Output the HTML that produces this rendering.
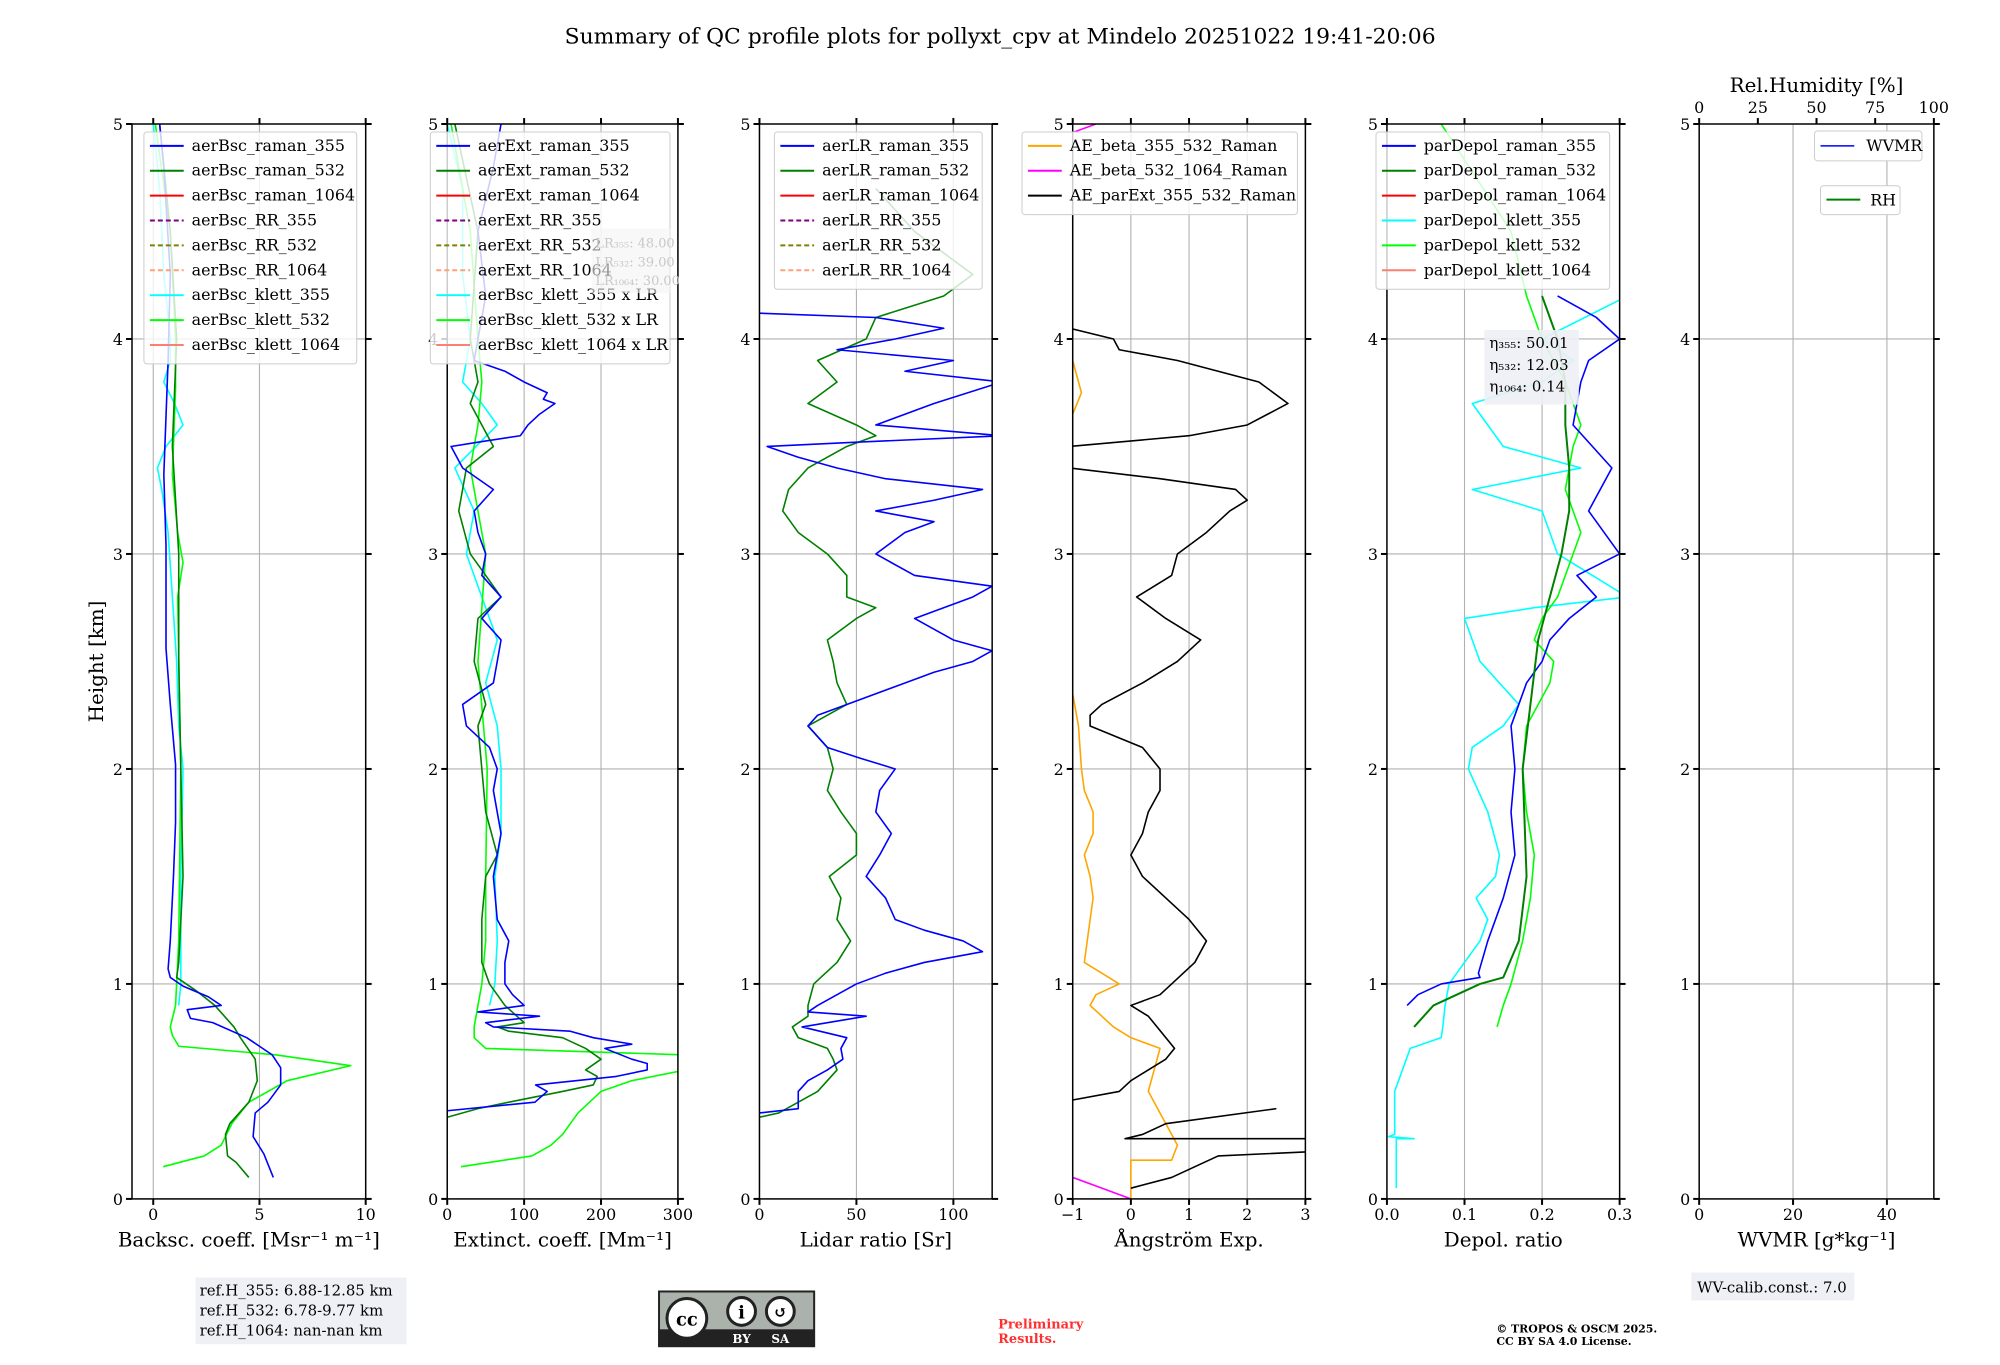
<!DOCTYPE html>
<html><head><meta charset="utf-8"><style>
html,body{margin:0;padding:0;background:#fff;}
svg text{font-family:"DejaVu Serif","Liberation Serif",serif;}
</style></head><body>
<svg id="fig" xmlns="http://www.w3.org/2000/svg" width="2000" height="1360" viewBox="0 0 2000 1360">
<rect width="2000" height="1360" fill="#fff"/>
<g transform="matrix(0.9944,0,0,0.9953,0.74,0.58)">
<text x="1005" y="43" font-size="22" text-anchor="middle">Summary of QC profile plots for pollyxt_cpv at Mindelo 20251022 19:41-20:06</text>
<text transform="translate(103,664) rotate(-90)" font-size="20" text-anchor="middle">Height [km]</text>
<g id="panels"></g>
<g>
<rect x="196" y="1283" width="212" height="67" fill="#eef0f5"/>
<text x="200" y="1301" font-size="15">ref.H_355: 6.88-12.85 km</text>
<text x="200" y="1321" font-size="15">ref.H_532: 6.78-9.77 km</text>
<text x="200" y="1341" font-size="15">ref.H_1064: nan-nan km</text>
</g>
<g>
<rect x="662" y="1297" width="156" height="55" fill="#aab2ab" stroke="#222" stroke-width="2"/>
<rect x="662" y="1335" width="156" height="17" fill="#222"/>
<circle cx="690" cy="1324" r="20" fill="#fff" stroke="#222" stroke-width="3"/>
<text x="690" y="1331" font-size="18" font-weight="bold" text-anchor="middle" font-family="Liberation Sans,sans-serif">cc</text>
<circle cx="745" cy="1317" r="14" fill="#fff" stroke="#222" stroke-width="3"/>
<circle cx="784" cy="1317" r="14" fill="#fff" stroke="#222" stroke-width="3"/>
<text x="745" y="1324" font-size="18" font-weight="bold" text-anchor="middle" font-family="Liberation Sans,sans-serif">i</text>
<text x="784" y="1323" font-size="16" font-weight="bold" text-anchor="middle" font-family="Liberation Sans,sans-serif">↺</text>
<text x="745" y="1349" font-size="12" font-weight="bold" fill="#fff" text-anchor="middle" font-family="Liberation Sans,sans-serif">BY</text>
<text x="784" y="1349" font-size="12" font-weight="bold" fill="#fff" text-anchor="middle" font-family="Liberation Sans,sans-serif">SA</text>
</g>
<text x="1003" y="1334" font-size="13" font-weight="bold" fill="#ff3030">Preliminary</text>
<text x="1003" y="1349" font-size="13" font-weight="bold" fill="#ff3030">Results.</text>
<text x="1504" y="1338" font-size="11" font-weight="bold">© TROPOS &amp; OSCM 2025.</text>
<text x="1504" y="1351" font-size="11" font-weight="bold">CC BY SA 4.0 License.</text>
<g>
<rect x="1700" y="1278" width="164" height="28" fill="#eef0f5"/>
<text x="1706" y="1298" font-size="15">WV-calib.const.: 7.0</text>
</g>
</g>
</svg>
<script>
// ---- data: [height km, value] ----
const bsc355 = [[0.1,5.65],[0.21,5.2],[0.29,4.7],[0.4,4.8],[0.45,5.4],[0.53,6.0],[0.61,6.0],[0.67,5.6],[0.75,4.4],[0.82,2.8],[0.84,1.75],[0.88,1.6],[0.9,3.2],[0.94,2.6],[0.99,1.4],[1.03,0.8],[1.07,0.7],[1.2,0.8],[1.5,0.95],[1.75,1.05],[2.02,1.05],[2.3,0.8],[2.56,0.6],[2.83,0.6],[3.04,0.6],[3.37,0.5],[3.64,0.6],[3.9,0.7],[4.3,0.8],[4.8,0.5],[5.0,0.3]];
const bsc532 = [[0.1,4.5],[0.17,3.9],[0.2,3.5],[0.3,3.4],[0.35,3.6],[0.45,4.5],[0.55,4.9],[0.65,4.8],[0.75,4.1],[0.8,3.8],[0.9,2.9],[0.97,2.0],[1.03,1.1],[1.1,1.2],[1.5,1.4],[2.0,1.3],[2.5,1.2],[3.0,1.2],[3.5,0.9],[4.0,1.1],[4.5,0.8],[5.0,0.3]];
const bscKlett532 = [[0.15,0.47],[0.2,2.4],[0.25,3.2],[0.35,3.7],[0.45,4.5],[0.55,6.3],[0.62,9.3],[0.67,5.8],[0.71,1.2],[0.76,0.9],[0.8,0.8],[0.9,1.05],[1.2,1.2],[2.0,1.3],[2.8,1.15],[2.96,1.4],[3.1,1.15],[3.37,0.9],[3.77,1.05],[4.0,1.05],[4.5,0.8],[5.0,0.1]];
const bscKlett355 = [[0.9,1.2],[1.0,1.3],[1.5,1.3],[2.0,1.4],[2.2,1.2],[2.5,1.1],[2.8,0.9],[3.1,0.7],[3.3,0.4],[3.4,0.2],[3.5,0.6],[3.6,1.4],[3.7,1.0],[3.8,0.5],[3.9,0.8],[4.0,0.8],[4.3,0.5],[4.7,0.3],[5.0,0.0]];
const ext355 = [[0.4,0],[0.41,0],[0.45,114],[0.5,130],[0.53,115],[0.57,220],[0.6,260],[0.63,260],[0.65,240],[0.7,205],[0.72,240],[0.75,190],[0.78,160],[0.8,60],[0.82,50],[0.85,120],[0.87,40],[0.9,100],[0.95,85],[1.0,75],[1.1,75],[1.2,80],[1.3,65],[1.5,60],[1.7,70],[1.9,60],[2.0,65],[2.1,55],[2.2,25],[2.3,20],[2.4,60],[2.5,65],[2.6,70],[2.7,45],[2.8,70],[2.9,45],[3.0,50],[3.1,40],[3.2,35],[3.3,60],[3.4,20],[3.5,5],[3.52,40],[3.55,95],[3.6,105],[3.65,120],[3.7,140],[3.72,125],[3.75,130],[3.8,100],[3.85,75],[3.9,35],[4.0,40],[4.2,50],[4.5,40],[4.8,60],[5.0,70]];
const ext532 = [[0.38,0],[0.42,40],[0.45,80],[0.5,150],[0.53,190],[0.57,195],[0.6,180],[0.65,200],[0.7,180],[0.75,150],[0.78,80],[0.8,65],[0.82,100],[0.9,75],[1.0,55],[1.1,45],[1.3,45],[1.5,50],[1.6,65],[1.8,50],[2.0,45],[2.2,40],[2.3,50],[2.5,35],[2.7,40],[2.8,70],[2.9,50],[3.0,30],[3.2,15],[3.4,25],[3.5,60],[3.6,45],[3.7,30],[3.8,40],[3.9,35],[4.0,30],[4.5,40],[5.0,10]];
const extKlett532 = [[0.15,18],[0.2,110],[0.25,135],[0.3,150],[0.4,170],[0.5,200],[0.55,240],[0.6,310],[0.67,310],[0.7,50],[0.75,35],[0.8,35],[0.9,40],[1.0,45],[1.2,50],[1.5,50],[2.0,52],[2.5,40],[3.0,50],[3.2,40],[3.4,30],[3.6,40],[3.8,45],[4.0,40],[4.5,30],[5.0,5]];
const extKlett355 = [[0.9,55],[1.0,62],[1.2,65],[1.5,62],[1.7,70],[2.0,70],[2.2,65],[2.4,50],[2.6,65],[2.8,45],[3.0,25],[3.2,35],[3.4,10],[3.6,65],[3.7,45],[3.8,20],[4.0,30],[4.3,20],[4.7,20],[5.0,0]];
const lr355 = [[0.4,0],[0.42,20],[0.5,20],[0.55,25],[0.6,35],[0.65,43],[0.7,42],[0.75,45],[0.8,22],[0.85,55],[0.87,25],[0.9,30],[0.95,40],[1.0,50],[1.05,65],[1.1,85],[1.15,115],[1.2,105],[1.25,85],[1.3,70],[1.4,65],[1.5,55],[1.6,62],[1.7,68],[1.8,60],[1.9,62],[2.0,70],[2.05,52],[2.1,35],[2.2,25],[2.25,30],[2.3,45],[2.4,75],[2.45,90],[2.5,110],[2.55,120],[2.6,100],[2.7,80],[2.8,110],[2.85,120],[2.9,80],[3.0,60],[3.1,75],[3.15,90],[3.2,60],[3.25,90],[3.3,115],[3.35,65],[3.4,40],[3.45,20],[3.5,4],[3.52,50],[3.55,125],[3.6,60],[3.7,90],[3.8,125],[3.85,75],[3.9,100],[3.95,40],[4.0,70],[4.05,95],[4.1,60],[4.12,0]];
const lr532 = [[0.38,0],[0.4,10],[0.45,20],[0.5,30],[0.6,40],[0.65,38],[0.7,35],[0.75,20],[0.8,17],[0.85,25],[0.9,25],[1.0,28],[1.1,40],[1.2,47],[1.3,40],[1.4,42],[1.5,36],[1.6,50],[1.7,50],[1.8,42],[1.9,35],[2.0,38],[2.1,35],[2.2,25],[2.3,45],[2.4,40],[2.5,38],[2.6,35],[2.7,50],[2.75,60],[2.8,45],[2.9,45],[3.0,35],[3.1,20],[3.2,12],[3.3,15],[3.4,25],[3.5,45],[3.55,60],[3.6,50],[3.7,25],[3.8,40],[3.9,30],[4.0,55],[4.1,60],[4.2,95],[4.3,110],[4.5,80],[4.7,60]];
const aeParExt1 = [[0.05,0],[0.1,0.7],[0.2,1.5],[0.22,3.1]];
const aeParExt2 = [[0.28,3.1],[0.28,-0.1],[0.3,0.2],[0.35,0.6],[0.42,2.5]];
const aeParExt3 = [[0.46,-1.0],[0.5,-0.2],[0.55,0],[0.6,0.3],[0.65,0.6],[0.7,0.75],[0.75,0.6],[0.8,0.45],[0.85,0.3],[0.9,0],[0.95,0.5],[1.0,0.7],[1.1,1.1],[1.2,1.3],[1.3,1.0],[1.4,0.6],[1.5,0.2],[1.6,0.0],[1.7,0.2],[1.8,0.3],[1.9,0.5],[2.0,0.5],[2.1,0.2],[2.2,-0.7],[2.25,-0.7],[2.3,-0.5],[2.4,0.2],[2.5,0.8],[2.6,1.2],[2.7,0.6],[2.8,0.1],[2.9,0.7],[3.0,0.8],[3.1,1.3],[3.2,1.7],[3.25,2.0],[3.3,1.8],[3.35,0.5],[3.4,-1.05]];
const aeParExt4 = [[3.5,-1.05],[3.55,1.0],[3.6,2.0],[3.7,2.7],[3.8,2.2],[3.9,0.8],[3.95,-0.2],[4.0,-0.3],[4.05,-1.05]];
const aeBeta355532a = [[0.0,0.0],[0.18,0.0],[0.18,0.7],[0.25,0.8],[0.35,0.6],[0.5,0.3],[0.7,0.5],[0.75,0.0],[0.8,-0.3],[0.9,-0.7],[0.95,-0.6],[1.0,-0.2],[1.05,-0.5],[1.1,-0.8],[1.2,-0.75],[1.4,-0.65],[1.5,-0.7],[1.6,-0.8],[1.7,-0.65],[1.8,-0.65],[1.9,-0.8],[2.0,-0.85],[2.2,-0.9],[2.35,-1.0]];
const aeBeta355532b = [[3.65,-1.0],[3.75,-0.85],[3.85,-0.95],[3.9,-1.0]];
const aeBeta5321064a = [[0.0,0.0],[0.05,-0.5],[0.1,-1.0]];
const aeBeta5321064b = [[4.96,-1.0],[5.0,-0.6]];
const dep355 = [[0.9,0.026],[0.95,0.04],[1.0,0.07],[1.03,0.12],[1.05,0.118],[1.2,0.13],[1.4,0.15],[1.6,0.165],[1.8,0.16],[2.0,0.165],[2.2,0.16],[2.4,0.18],[2.5,0.2],[2.6,0.21],[2.7,0.235],[2.8,0.27],[2.9,0.245],[3.0,0.3],[3.2,0.26],[3.4,0.29],[3.6,0.24],[3.8,0.25],[3.9,0.26],[4.0,0.3],[4.1,0.27],[4.2,0.22]];
const dep532 = [[0.8,0.035],[0.9,0.06],[1.0,0.12],[1.03,0.15],[1.2,0.17],[1.5,0.18],[2.0,0.175],[2.3,0.185],[2.6,0.195],[2.8,0.21],[3.0,0.225],[3.2,0.235],[3.4,0.235],[3.6,0.23],[3.8,0.23],[4.0,0.22],[4.2,0.2]];
const depKlett532 = [[0.8,0.142],[0.9,0.15],[1.0,0.16],[1.2,0.175],[1.4,0.185],[1.6,0.19],[1.8,0.18],[2.0,0.175],[2.2,0.18],[2.4,0.21],[2.5,0.215],[2.6,0.19],[2.7,0.2],[2.8,0.22],[3.0,0.24],[3.1,0.25],[3.3,0.23],[3.5,0.24],[3.6,0.25],[3.8,0.23],[4.0,0.2],[4.2,0.18],[4.5,0.16],[5.0,0.07]];
const depKlett355 = [[0.05,0.012],[0.28,0.012],[0.28,0.035],[0.29,0.002],[0.3,0.01],[0.5,0.01],[0.7,0.03],[0.75,0.07],[0.8,0.072],[0.9,0.075],[1.0,0.08],[1.1,0.1],[1.2,0.12],[1.3,0.13],[1.4,0.115],[1.5,0.14],[1.6,0.145],[1.8,0.13],[2.0,0.105],[2.1,0.11],[2.2,0.15],[2.3,0.17],[2.5,0.12],[2.7,0.1],[2.75,0.19],[2.8,0.31],[3.0,0.22],[3.2,0.2],[3.3,0.11],[3.4,0.25],[3.5,0.15],[3.7,0.11],[3.8,0.2],[3.9,0.24],[4.0,0.2],[4.2,0.31]];
const yTicks = [0,1,2,3,4,5];
const bscTicks = [0,5,10];
const extTicks = [0,100,200,300];
const lrTicks = [0,50,100];
const aeTicks = [-1,0,1,2,3];
const depTicks = [0.0,0.1,0.2,0.3];
const depTickLabels = ["0.0","0.1","0.2","0.3"];
const wvTicks = [0,20,40];
const rhTicks = [0,25,50,75,100];

const NS="http://www.w3.org/2000/svg";
const root=document.getElementById('panels');
const Y0=1204, Y1=124;
function yS(h){return Y0-(h/5)*(Y0-Y1);}
function mk(tag,attrs,parent){const e=document.createElementNS(NS,tag);for(const k in attrs)e.setAttribute(k,attrs[k]);parent.appendChild(e);return e;}

const panels=[
 {id:'bsc',x0:132,x1:367,min:-1,max:10,ticks:bscTicks,labels:bscTicks.map(String),label:'Backsc. coeff. [Msr⁻¹ m⁻¹]'},
 {id:'ext',x0:449,x1:681,min:0,max:300,ticks:extTicks,labels:extTicks.map(String),label:'Extinct. coeff. [Mm⁻¹]'},
 {id:'lr',x0:763,x1:997,min:0,max:120,ticks:lrTicks,labels:lrTicks.map(String),label:'Lidar ratio [Sr]'},
 {id:'ae',x0:1078,x1:1312,min:-1,max:3,ticks:aeTicks,labels:aeTicks.map(v=>v<0?'−'+(-v):String(v)),label:'Ångström Exp.'},
 {id:'dep',x0:1394,x1:1628,min:0,max:0.3,ticks:depTicks,labels:depTickLabels,label:'Depol. ratio'},
 {id:'wv',x0:1708,x1:1944,min:0,max:50,ticks:wvTicks,labels:wvTicks.map(String),label:'WVMR [g*kg⁻¹]'}
];

function drawPanel(p,i){
  const g=mk('g',{},root);
  
  
  const xS=v=>p.x0+(v-p.min)/(p.max-p.min)*(p.x1-p.x0);
  p.xS=xS;
  const cp=mk('clipPath',{id:'clip'+i},g);
  mk('rect',{x:p.x0,y:Y1,width:p.x1-p.x0,height:Y0-Y1},cp);
  for(const t of p.ticks){const x=xS(t);const l=mk('line',{x1:x,x2:x,y1:Y1,y2:Y0,stroke:'#b0b0b0','stroke-width':1.1},g);
    
    }
  for(const t of yTicks){const y=yS(t);const l=mk('line',{x1:p.x0,x2:p.x1,y1:y,y2:y,stroke:'#b0b0b0','stroke-width':1.1},g);
    
    }
  p.g=mk('g',{'clip-path':'url(#clip'+i+')'},g);
  p.frame=g;
}
function finishPanel(p){
  const g=p.frame, xS=p.xS;
  mk('rect',{x:p.x0,y:Y1,width:p.x1-p.x0,height:Y0-Y1,fill:'none',stroke:'#000','stroke-width':1.5},g);
  p.ticks.forEach((t,k)=>{const x=xS(t);
    mk('line',{x1:x,x2:x,y1:Y0,y2:Y0+6,stroke:'#000','stroke-width':2},g);
    if(p.id!=='wv') mk('line',{x1:x,x2:x,y1:Y1,y2:Y1-6,stroke:'#000','stroke-width':2},g);
    const tx=mk('text',{x:x,y:Y0+21,'font-size':16,'text-anchor':'middle'},g);
    
    
    tx.textContent=p.labels[k];});
  for(const t of yTicks){const y=yS(t);
    mk('line',{x1:p.x0-6,x2:p.x0,y1:y,y2:y,stroke:'#000','stroke-width':2},g);
    mk('line',{x1:p.x1,x2:p.x1+6,y1:y,y2:y,stroke:'#000','stroke-width':2},g);
    const tx=mk('text',{x:p.x0-9,y:y+6,'font-size':16,'text-anchor':'end'},g);
    
    
    tx.textContent=String(t);}
  const lb=mk('text',{x:(p.x0+p.x1)/2,y:Y0+48,'font-size':20,'text-anchor':'middle'},g);
  
  
  lb.textContent=p.label;
}
function series(p,data,color,name,w,op){
  const d=data.map((q,k)=>(k?'L':'M')+p.xS(q[1]).toFixed(1)+','+yS(q[0]).toFixed(1)).join('');
  const el=mk('path',{d:d,fill:'none',stroke:color,'stroke-width':w||1.6,'stroke-linejoin':'round','opacity':op||1},p.g);
  
  
}
function legend(x,y,w,entries,name){
  const g=mk('g',{},root);
  
  
  const h=entries.length*25+8;
  mk('rect',{x:x,y:y,width:w,height:h,rx:3,fill:'#fff','fill-opacity':0.8,stroke:'#ccc'},g);
  entries.forEach((e,k)=>{const yy=y+14+k*25;
    mk('line',{x1:x+6,x2:x+40,y1:yy,y2:yy,stroke:e[1],'stroke-width':2,'stroke-dasharray':e[2]?'5,3':'none'},g);
    const t=mk('text',{x:x+48,y:yy+5,'font-size':16},g);
    
    
    t.textContent=e[0];});
}

panels.forEach(drawPanel);
const [P1,P2,P3,P4,P5,P6]=panels;
series(P1,bscKlett355,'#00ffff','bsc-klett-355-line');
series(P1,bscKlett532,'#00ff00','bsc-klett-532-line');
series(P1,bsc532,'#008000','bsc-raman-532-line');
series(P1,bsc355,'#0000ff','bsc-raman-355-line');
series(P2,extKlett355,'#00ffff','ext-klett-355-line');
series(P2,extKlett532,'#00ff00','ext-klett-532-line');
series(P2,ext532,'#008000','ext-raman-532-line');
series(P2,ext355,'#0000ff','ext-raman-355-line');
series(P3,lr532,'#008000','lr-raman-532-line');
series(P3,lr355,'#0000ff','lr-raman-355-line');
series(P4,aeBeta355532a,'#ffa500','ae-beta-355-532-line');
series(P4,aeBeta355532b,'#ffa500','ae-beta-355-532-line-upper');
series(P4,aeBeta5321064a,'#ff00ff','ae-beta-532-1064-line');
series(P4,aeBeta5321064b,'#ff00ff','ae-beta-532-1064-line-upper');
series(P4,aeParExt1,'#000','ae-parext-line-1');
series(P4,aeParExt2,'#000','ae-parext-line-2');
series(P4,aeParExt3,'#000','ae-parext-line-3');
series(P4,aeParExt4,'#000','ae-parext-line-4');
series(P5,depKlett355,'#00ffff','depol-klett-355-line');
series(P5,depKlett532,'#00ff00','depol-klett-532-line');
series(P5,dep355,'#0000ff','depol-raman-355-line');
series(P5,dep532,'#008000','depol-raman-532-line',2);
panels.forEach(finishPanel);

const rhS=v=>P6.x0+v/100*(P6.x1-P6.x0);
rhTicks.forEach(t=>{
  mk('line',{x1:rhS(t),x2:rhS(t),y1:Y1,y2:Y1-6,stroke:'#000','stroke-width':2},root);
  const tx=mk('text',{x:rhS(t),y:Y1-11,'font-size':16,'text-anchor':'middle'},root);
  
  
  tx.textContent=String(t);
});
const rht=mk('text',{x:1826,y:92,'font-size':20,'text-anchor':'middle'},root);


rht.textContent='Rel.Humidity [%]';

legend(144,132,214,[['aerBsc_raman_355','#0000ff'],['aerBsc_raman_532','#008000'],['aerBsc_raman_1064','#ff0000'],['aerBsc_RR_355','#800080',1],['aerBsc_RR_532','#808000',1],['aerBsc_RR_1064','#ffa07a',1],['aerBsc_klett_355','#00ffff'],['aerBsc_klett_532','#00ff00'],['aerBsc_klett_1064','#fa8072']],'bsc-legend');
legend(432,132,241,[['aerExt_raman_355','#0000ff'],['aerExt_raman_532','#008000'],['aerExt_raman_1064','#ff0000'],['aerExt_RR_355','#800080',1],['aerExt_RR_532','#808000',1],['aerExt_RR_1064','#ffa07a',1],['aerBsc_klett_355 x LR','#00ffff'],['aerBsc_klett_532 x LR','#00ff00'],['aerBsc_klett_1064 x LR','#fa8072']],'ext-legend');
legend(778,132,209,[['aerLR_raman_355','#0000ff'],['aerLR_raman_532','#008000'],['aerLR_raman_1064','#ff0000'],['aerLR_RR_355','#800080',1],['aerLR_RR_532','#808000',1],['aerLR_RR_1064','#ffa07a',1]],'lr-legend');
legend(1027,132,277,[['AE_beta_355_532_Raman','#ffa500'],['AE_beta_532_1064_Raman','#ff00ff'],['AE_parExt_355_532_Raman','#000000']],'ae-legend');
legend(1383,132,235,[['parDepol_raman_355','#0000ff'],['parDepol_raman_532','#008000'],['parDepol_raman_1064','#ff0000'],['parDepol_klett_355','#00ffff'],['parDepol_klett_532','#00ff00'],['parDepol_klett_1064','#fa8072']],'depol-legend');

(function(){
  const g=mk('g',{},root);
  
  
  mk('rect',{x:1824,y:131,width:108,height:30,rx:3,fill:'#fff',stroke:'#ccc'},g);
  mk('line',{x1:1830,x2:1864,y1:146,y2:146,stroke:'#0000ff','stroke-width':1.5},g);
  const t=mk('text',{x:1876,y:151,'font-size':16},g);t.textContent='WVMR';
  const g2=mk('g',{},root);
  
  
  mk('rect',{x:1830,y:186,width:80,height:29,rx:3,fill:'#fff',stroke:'#ccc'},g2);
  mk('line',{x1:1836,x2:1870,y1:200,y2:200,stroke:'#008000','stroke-width':2},g2);
  const t2=mk('text',{x:1880,y:206,'font-size':16},g2);t2.textContent='RH';
})();

(function(){
  const g=mk('g',{},root);
  
  
  mk('rect',{x:594,y:229,width:80,height:65,fill:'#f4f4f4','fill-opacity':0.6},g);
  ['LR₃₅₅: 48.00','LR₅₃₂: 39.00','LR₁₀₆₄: 30.00'].forEach((s,k)=>{const t=mk('text',{x:598,y:248+k*19,'font-size':13,fill:'#c8c8c8'},g);t.textContent=s;});
})();
(function(){
  const g=mk('g',{},root);
  
  
  mk('rect',{x:1492,y:331,width:95,height:75,fill:'#eef0f5','fill-opacity':0.9},g);
  ['η₃₅₅: 50.01','η₅₃₂: 12.03','η₁₀₆₄: 0.14'].forEach((s,k)=>{const t=mk('text',{x:1497,y:349+k*22,'font-size':15},g);t.textContent=s;});
})();
</script>
</body></html>
